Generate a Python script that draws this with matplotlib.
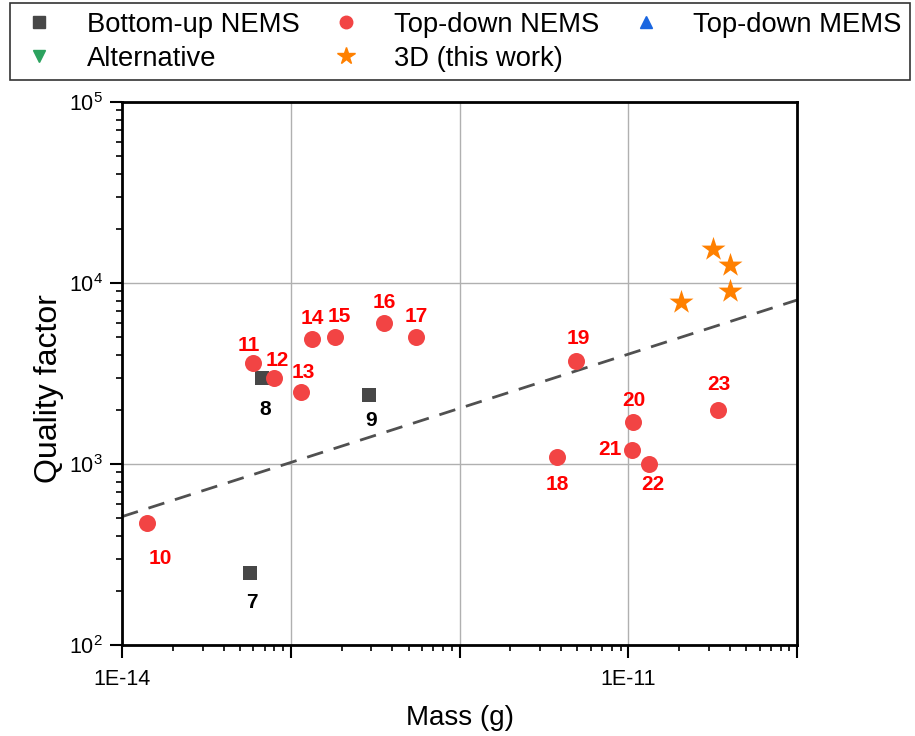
import matplotlib
matplotlib.use("Agg")
import matplotlib.pyplot as plt
import numpy as np
from matplotlib.lines import Line2D
from matplotlib.ticker import LogLocator, NullFormatter, FixedLocator, FixedFormatter

plt.rcParams['font.family'] = ['Liberation Sans', 'DejaVu Sans']
plt.rcParams['mathtext.fontset'] = 'custom'
plt.rcParams['mathtext.rm'] = 'Liberation Sans'
plt.rcParams['mathtext.it'] = 'Liberation Sans'
plt.rcParams['mathtext.bf'] = 'Liberation Sans:bold'

# Data
bottom_labels = ["7", "8", "9"]
bottom_mass = [5.7e-14, 6.8e-14, 2.9e-13]
bottom_q = [250, 3000, 2400]

topdown_labels = ["10", "11", "12", "13", "14", "15", "16", "17",
                  "18", "19", "20", "21", "22", "23"]
topdown_mass = [1.4e-14, 6.0e-14, 8.0e-14, 1.15e-13, 1.34e-13, 1.83e-13, 3.57e-13, 5.55e-13,
                3.78e-12, 4.9e-12, 1.06e-11, 1.05e-11, 1.33e-11, 3.4e-11]
topdown_q = [470, 3600, 3000, 2500, 4900, 5000, 6000, 5000,
             1100, 3700, 1700, 1200, 1000, 2000]

work_mass = [3.2e-11, 4.0e-11, 4.0e-11, 2.05e-11]
work_q = [15500, 12600, 9000, 7900]

fit_mass = [1e-14, 1e-10]
fit_q = [512, 8050]

# label offsets in points (dx, dy)
bottom_offsets = [(2, -21), (2, -23), (2, -18)]
topdown_offsets = [(10, -25), (-3, 13), (2, 12), (2, 14), (0, 15), (3, 15),
                   (0, 15), (0, 15), (0, -20), (2, 16), (1, 16), (-16, 0), (3, -15), (1, 18)]

fig = plt.figure(figsize=(9.15, 7.36), dpi=100)
ax = fig.add_axes([122/915, 1-645/736, (797-122)/915, (645-102)/736])

ax.set_xscale('log')
ax.set_yscale('log')
ax.set_xlim(1e-14, 1e-10)
ax.set_ylim(1e2, 1e5)

ax.grid(True, which='major', color='#b0b0b0', linewidth=1.0)
ax.set_axisbelow(True)

ax.plot(fit_mass, fit_q, linestyle=(0, (6, 4)), color='#505050', linewidth=2, zorder=2)

c_sq = '#474747'
c_red = '#f24444'
c_star = '#ff8000'
c_blue = '#1a66e0'
c_green = '#2ca25f'

ax.scatter(bottom_mass, bottom_q, marker='s', s=110, color=c_sq, zorder=3, linewidths=0)
ax.scatter(topdown_mass, topdown_q, marker='o', s=150, color=c_red, zorder=3, linewidths=0)
ax.scatter(work_mass, work_q, marker='*', s=330, color=c_star, zorder=3, linewidths=0)

for lab, m, q, off in zip(bottom_labels, bottom_mass, bottom_q, bottom_offsets):
    ax.annotate(lab, (m, q), xytext=off, textcoords='offset points', ha='center', va='center',
                fontsize=15, fontweight='bold', color='black')
for lab, m, q, off in zip(topdown_labels, topdown_mass, topdown_q, topdown_offsets):
    ax.annotate(lab, (m, q), xytext=off, textcoords='offset points', ha='center', va='center',
                fontsize=15, fontweight='bold', color='#ff0000')

# ticks
ax.xaxis.set_major_locator(FixedLocator([1e-14, 1e-13, 1e-12, 1e-11, 1e-10]))
ax.xaxis.set_major_formatter(FixedFormatter(['1E-14', '', '', '1E-11', '']))
ax.xaxis.set_minor_locator(LogLocator(base=10, subs=np.arange(2, 10), numticks=20))
ax.xaxis.set_minor_formatter(NullFormatter())
ax.yaxis.set_major_locator(FixedLocator([1e2, 1e3, 1e4, 1e5]))
ax.yaxis.set_minor_locator(LogLocator(base=10, subs=np.arange(2, 10), numticks=20))
ax.yaxis.set_minor_formatter(NullFormatter())

ax.tick_params(axis='both', which='major', direction='out', length=9, width=1.5, labelsize=15.5,
               top=False, right=False)
ax.tick_params(axis='both', which='minor', direction='out', length=4.5, width=1.2,
               top=False, right=False)
ax.tick_params(axis='x', pad=8)
ax.tick_params(axis='y', pad=5)
for sp in ax.spines.values():
    sp.set_linewidth(2)

ax.set_xlabel('Mass (g)', fontsize=20, labelpad=11)
ax.set_ylabel('Quality factor', fontsize=23)
ax.yaxis.set_label_coords(-58/675, 0.5 - (388-373)/543)

handles = [
    Line2D([], [], marker='s', linestyle='None', color=c_sq, markersize=8, label='Bottom-up NEMS'),
    Line2D([], [], marker='v', linestyle='None', color=c_green, markersize=9, label='Alternative'),
    Line2D([], [], marker='o', linestyle='None', color=c_red, markersize=9, label='Top-down NEMS'),
    Line2D([], [], marker='*', linestyle='None', color=c_star, markersize=13, label='3D (this work)'),
    Line2D([], [], marker='^', linestyle='None', color=c_blue, markersize=9, label='Top-down MEMS'),
]
leg = fig.legend(handles=handles, ncol=3, loc='lower left',
                 bbox_to_anchor=(10/915, 1-80/736, 900/915, 73/736), mode='expand',
                 fontsize=19.7, frameon=True, fancybox=False, edgecolor='black',
                 handletextpad=1.0, borderaxespad=0, labelspacing=0.3, borderpad=0.3,
                 handlelength=1.5)
leg.get_frame().set_linewidth(1.2)

fig.savefig('out.png', dpi=100)
